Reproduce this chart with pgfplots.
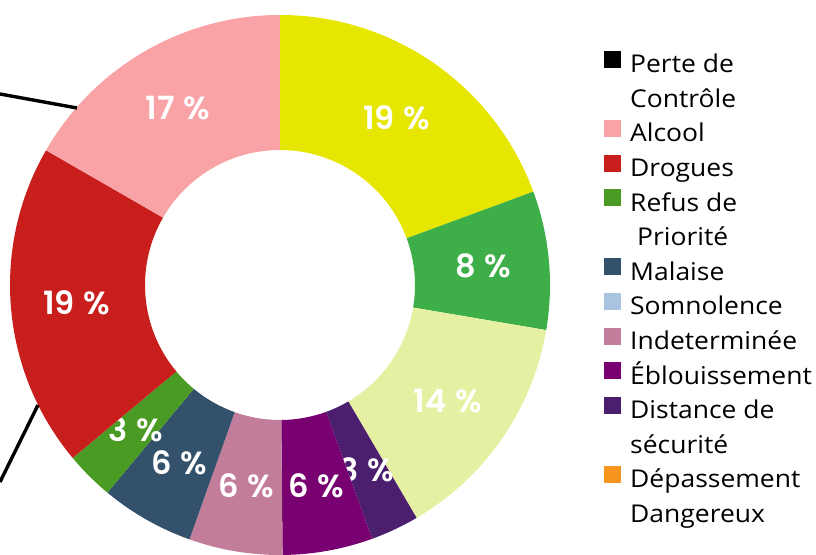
\documentclass[border=0pt]{standalone}
\usepackage{pgfplots}
\pgfplotsset{compat=1.18}
\usepackage{pgfplotstable}
\usepackage{fontspec}
\setmainfont{Open Sans}[FakeStretch=1.08]
\newfontfamily\labelfont{Poppins SemiBold}
\definecolor{cYellow}{HTML}{E6E600}
\definecolor{cGreen}{HTML}{3DAE48}
\definecolor{cLight}{HTML}{E6F0A3}
\definecolor{cDPurple}{HTML}{4B1E6E}
\definecolor{cPurple}{HTML}{780070}
\definecolor{cMauve}{HTML}{C27D9B}
\definecolor{cSlate}{HTML}{34516B}
\definecolor{cGreenB}{HTML}{4A9B23}
\definecolor{cRed}{HTML}{C81F1C}
\definecolor{cPink}{HTML}{F9A3A6}
\definecolor{cBlue}{HTML}{A8C4E0}
\definecolor{cOrange}{HTML}{F7941D}
\pgfplotstableread[col sep=comma]{
value,label,color
19.4,19,cYellow
8.3,8,cGreen
13.9,14,cLight
2.9,3,cDPurple
5.4,6,cPurple
5.6,6,cMauve
5.6,6,cSlate
2.9,3,cGreenB
19.4,19,cRed
16.7,17,cPink
}\donut
\tikzset{lbl/.style={font=\labelfont\fontsize{32}{32}\selectfont, text=white, inner sep=0pt}}
\begin{document}
\begin{tikzpicture}
\pgfplotstablegetrowsof{\donut}
\pgfmathtruncatemacro\lastrow{\pgfplotsretval-1}
\def\total{0}
\pgfplotsforeachungrouped \i in {0,...,\lastrow}{%
  \pgfplotstablegetelem{\i}{value}\of\donut
  \pgfmathsetmacro\total{\total+\pgfplotsretval}%
}
\begin{axis}[
  x=1pt, y=1pt, xmin=0, xmax=816, ymin=0, ymax=554,
  hide axis, clip=true,
  legend image code/.code={\fill[#1, draw=none] (0pt,-1pt) rectangle (17pt,16pt);},
  legend cell align=left,
  legend style={at={(axis cs:604,503.5)}, anchor=north west, draw=none, fill=none,
    inner sep=0pt, row sep=6.6pt, column sep=9pt,
    nodes={inner sep=0pt, text height=18pt, text depth=6pt, font=\fontsize{24.5}{28}\selectfont}},
]
\coordinate (BL) at (rel axis cs:0,0);
\coordinate (TR) at (rel axis cs:1,1);
\def\start{90}
\pgfplotsforeachungrouped \i in {0,...,\lastrow}{%
  \pgfplotstablegetelem{\i}{value}\of\donut \let\val\pgfplotsretval
  \pgfplotstablegetelem{\i}{label}\of\donut \let\lab\pgfplotsretval
  \pgfplotstablegetelem{\i}{color}\of\donut \let\col\pgfplotsretval
  \pgfmathsetmacro\aone{\start}%
  \pgfmathsetmacro\atwo{\start-\val/\total*360}%
  \pgfmathsetmacro\amid{(\aone+\atwo)/2}%
  \edef\cmd{\noexpand\fill[\col] (axis cs:280,269) ++(\aone:270pt) arc[start angle=\aone, end angle=\atwo, radius=270pt] -- ++(\atwo:-135pt) arc[start angle=\atwo, end angle=\aone, radius=135pt] -- cycle;
  \noexpand\path (axis cs:280,269) ++(\amid:204pt) node[lbl] {\lab\noexpand\hspace{0.27em}\%};}%
  \cmd
  \global\let\start\atwo
}
\addplot[forget plot, black, line width=3.4pt] coordinates {(0,460) (77,446)};
\addplot[forget plot, black, line width=3.4pt] coordinates {(38,149) (0,72)};
\addlegendimage{fill=black}\addlegendentry{Perte de}
\addlegendimage{fill=white, opacity=0}\addlegendentry{Contrôle}
\addlegendimage{fill=cPink}\addlegendentry{Alcool}
\addlegendimage{fill=cRed}\addlegendentry{Drogues}
\addlegendimage{fill=cGreenB}\addlegendentry{Refus de}
\addlegendimage{fill=white, opacity=0}\addlegendentry{\hspace{7pt}Priorité}
\addlegendimage{fill=cSlate}\addlegendentry{Malaise}
\addlegendimage{fill=cBlue}\addlegendentry{Somnolence}
\addlegendimage{fill=cMauve}\addlegendentry{Indeterminée}
\addlegendimage{fill=cPurple}\addlegendentry{Éblouissement}
\addlegendimage{fill=cDPurple}\addlegendentry{Distance de}
\addlegendimage{fill=white, opacity=0}\addlegendentry{sécurité}
\addlegendimage{fill=cOrange}\addlegendentry{Dépassement}
\addlegendimage{fill=white, opacity=0}\addlegendentry{Dangereux}
\end{axis}
\pgfresetboundingbox
\path[use as bounding box] (BL) rectangle (TR);
\end{tikzpicture}
\end{document}
